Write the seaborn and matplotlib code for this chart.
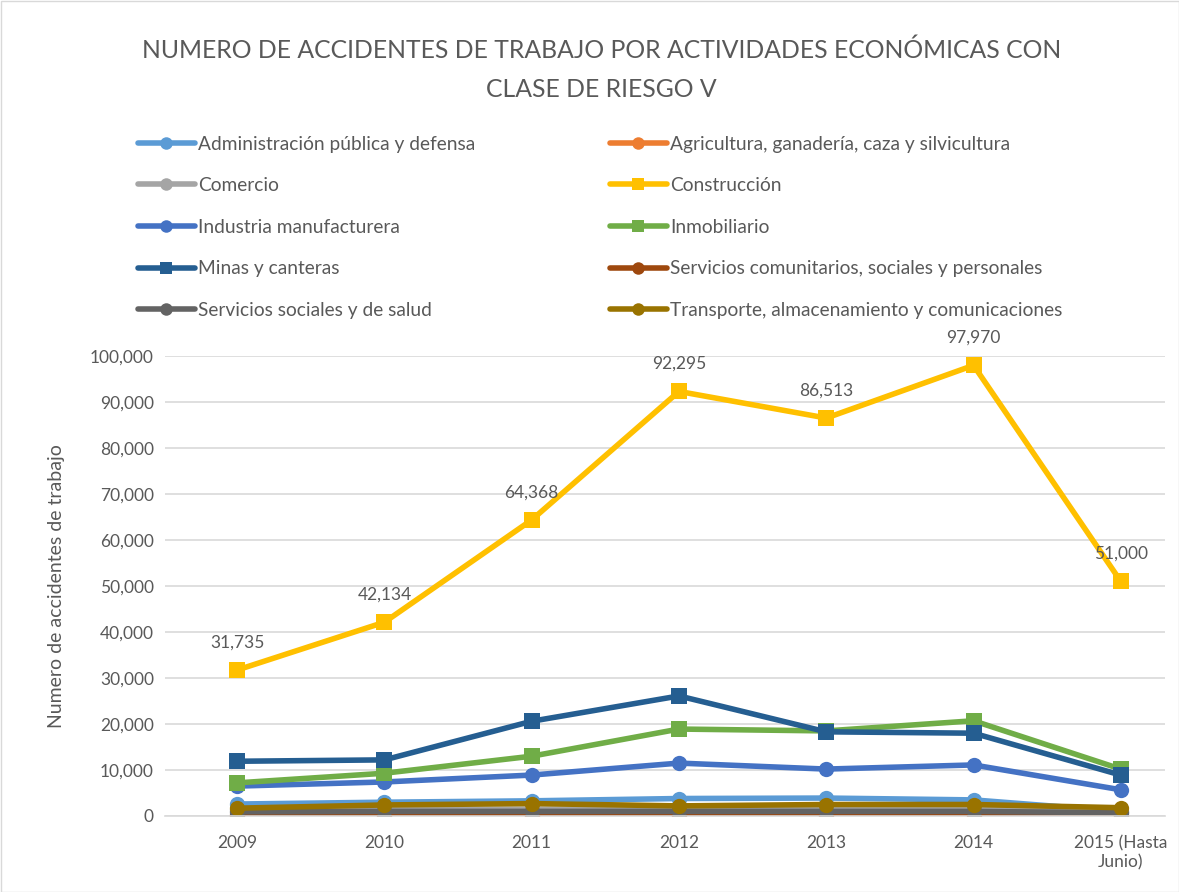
"""Accidentes de trabajo por actividad economica, clase de riesgo V"""
import pandas as pd
import matplotlib.pyplot as plt
import seaborn as sns
from matplotlib.lines import Line2D
from matplotlib.patches import Rectangle

# Data
years = ["2009", "2010", "2011", "2012", "2013", "2014", "2015 (Hasta\nJunio)"]
admin_publica = [2600, 3000, 3300, 3800, 3900, 3500, 1000]
agricultura = [100, 100, 100, 100, 100, 100, 50]
comercio = [1200, 1400, 1500, 1500, 1500, 1500, 800]
construccion = [31735, 42134, 64368, 92295, 86513, 97970, 51000]
industria = [6500, 7400, 8900, 11500, 10200, 11100, 5700]
inmobiliario = [7200, 9300, 13000, 18900, 18500, 20700, 10200]
minas = [11900, 12200, 20600, 26100, 18300, 18000, 8900]
serv_comunitarios = [150, 150, 150, 150, 150, 150, 100]
serv_salud = [900, 1000, 1000, 1000, 1000, 1000, 700]
transporte = [1700, 2400, 2700, 2200, 2500, 2500, 1800]

series = {
    "Administración pública y defensa": admin_publica,
    "Agricultura, ganadería, caza y silvicultura": agricultura,
    "Comercio": comercio,
    "Construcción": construccion,
    "Industria manufacturera": industria,
    "Inmobiliario": inmobiliario,
    "Minas y canteras": minas,
    "Servicios comunitarios, sociales y personales": serv_comunitarios,
    "Servicios sociales y de salud": serv_salud,
    "Transporte, almacenamiento y comunicaciones": transporte,
}
colors = ["#5B9BD5", "#ED7D31", "#A5A5A5", "#FFC000", "#4472C4",
          "#70AD47", "#255E91", "#9E480E", "#636363", "#997300"]
markers = ["o", "o", "o", "s", "o", "s", "s", "o", "o", "o"]

names = list(series.keys())
palette = dict(zip(names, colors))
marker_map = dict(zip(names, markers))

rows = []
for name, vals in series.items():
    for i, v in enumerate(vals):
        rows.append({"idx": i, "valor": v, "actividad": name})
df = pd.DataFrame(rows)

sns.set_style("white")
plt.rcParams["font.family"] = ["Lato", "DejaVu Sans"]
text_color = "#595959"

fig = plt.figure(figsize=(11.79, 8.92), dpi=100)
ax = fig.add_axes([165 / 1179, 76 / 892, 1000 / 1179, 460 / 892])

for name in names:
    sub = df[df["actividad"] == name]
    sns.lineplot(data=sub, x="idx", y="valor", ax=ax, color=palette[name],
                 marker=marker_map[name], markersize=11, linewidth=4,
                 markeredgewidth=0, legend=False)

for i, v in enumerate(construccion):
    ax.annotate(f"{v:,}", (i, v), xytext=(0, 14), textcoords="offset points",
                ha="center", va="bottom", fontsize=12.5, color=text_color)

ax.set_xlim(-0.49, 6.3)
ax.set_ylim(0, 100000)
ax.set_yticks(range(0, 100001, 10000))
ax.set_yticklabels([f"{t:,}" for t in range(0, 100001, 10000)])
ax.set_xticks(range(len(years)))
ax.set_xticklabels(years)
ax.tick_params(axis="both", labelsize=12.5, colors=text_color, length=0, pad=8)
ax.tick_params(axis="x", pad=14)
ax.grid(axis="y", color="#D9D9D9", linewidth=1.2)
ax.set_axisbelow(True)
for side in ["top", "right", "left"]:
    ax.spines[side].set_visible(False)
ax.spines["bottom"].set_color("#D9D9D9")
ax.spines["bottom"].set_linewidth(1.2)
ax.set_xlabel("")
ax.set_ylabel("Numero de accidentes de trabajo", fontsize=14, color=text_color, labelpad=18)

fig.text(0.51, 822 / 892,
         "NUMERO DE ACCIDENTES DE TRABAJO POR ACTIVIDADES ECONÓMICAS CON\nCLASE DE RIESGO V",
         ha="center", va="center", fontsize=17.8, color=text_color, linespacing=1.85)

# legend in two columns
handles = [Line2D([0], [0], color=c, marker=m, linewidth=4, markersize=9, markeredgewidth=0)
           for c, m in zip(colors, markers)]
for col, x0 in enumerate([130 / 1179, 602 / 1179]):
    idxs = list(range(col, len(names), 2))
    fig.legend([handles[i] for i in idxs], [names[i] for i in idxs],
               loc="upper left", bbox_to_anchor=(x0, 764 / 892), frameon=False,
               fontsize=13.8, labelcolor=text_color, handlelength=3.0,
               handletextpad=0.15, labelspacing=1.28, borderaxespad=0)

fig.patches.append(Rectangle((0.5 / 1179, 0.5 / 892), 1 - 1 / 1179, 1 - 1 / 892,
                             transform=fig.transFigure, fill=False,
                             edgecolor="#D9D9D9", linewidth=1))

fig.savefig("out.png", dpi=100)
